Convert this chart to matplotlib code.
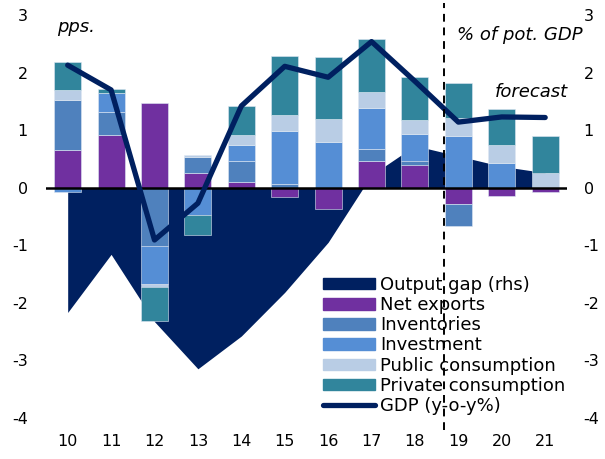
import numpy as np
import matplotlib
matplotlib.use('Agg')
import matplotlib.pyplot as plt
from matplotlib.patches import Patch
from matplotlib.lines import Line2D

plt.rcParams['axes.unicode_minus'] = False

years = ['10', '11', '12', '13', '14', '15', '16', '17', '18', '19', '20', '21']
net_exports = [0.66, 0.92, 1.47, 0.25, 0.10, -0.16, -0.37, 0.46, 0.40, -0.28, -0.14, -0.07]
inventories = [0.87, 0.40, -1.02, 0.28, 0.37, 0.06, 0.0, 0.22, 0.07, -0.38, 0.0, 0.0]
investment = [-0.07, 0.33, -0.65, -0.47, 0.28, 0.93, 0.80, 0.70, 0.46, 0.90, 0.43, 0.0]
public_cons = [0.17, 0.0, -0.05, 0.04, 0.16, 0.28, 0.40, 0.28, 0.25, 0.31, 0.31, 0.25]
private_cons = [0.49, 0.06, -0.59, -0.36, 0.51, 1.02, 1.08, 0.92, 0.74, 0.61, 0.63, 0.64]
output_gap = [-2.17, -1.16, -2.33, -3.15, -2.58, -1.82, -0.95, 0.22, 0.73, 0.55, 0.37, 0.26]
gdp = [2.13, 1.70, -0.91, -0.27, 1.42, 2.11, 1.92, 2.54, 1.85, 1.14, 1.23, 1.22]

navy = '#002060'
series = [
    ('Net exports', net_exports, '#7030A0'),
    ('Inventories', inventories, '#4F81BD'),
    ('Investment', investment, '#558ED5'),
    ('Public consumption', public_cons, '#B9CDE5'),
    ('Private consumption', private_cons, '#31859C'),
]

fig = plt.figure(figsize=(6.05, 4.59), dpi=100)
ax = fig.add_axes([0.076, 0.090, 0.861, 0.877])
x = np.arange(len(years))

# output gap area (rhs, same scale)
ax.fill_between(x, output_gap, 0, color=navy, lw=0, zorder=1)

pos = np.zeros(len(years))
neg = np.zeros(len(years))
for name, vals, col in series:
    v = np.array(vals)
    bottom = np.where(v >= 0, pos, neg)
    ax.bar(x, v, 0.62, bottom=bottom, color=col, edgecolor='#dfe8f3',
           linewidth=0.4, zorder=2)
    pos += np.where(v >= 0, v, 0)
    neg += np.where(v < 0, v, 0)

ax.axhline(0, color='black', lw=1.8, zorder=3)
ax.plot(x, gdp, color=navy, lw=3.8, solid_capstyle='round',
        solid_joinstyle='round', zorder=4)

# forecast divider
ax.plot([8.67, 8.67], [-0.03, 1.03], transform=ax.get_xaxis_transform(),
        color='black', lw=1.4, ls=(0, (4, 3)), clip_on=False, zorder=5)

ax.set_xlim(-0.5, 11.5)
ax.set_ylim(-4, 3)
ax.set_xticks(x)
ax.set_xticklabels(years)
ax.set_yticks(range(-4, 4))
ax.tick_params(axis='both', length=0, labelsize=11.5)
ax.tick_params(axis='x', pad=12)
ax.tick_params(axis='y', pad=13)
for s in ax.spines.values():
    s.set_visible(False)

ax2 = ax.twinx()
ax2.set_ylim(-4, 3)
ax2.set_yticks(range(-4, 4))
ax2.tick_params(axis='y', length=0, labelsize=11.5, pad=12)
for s in ax2.spines.values():
    s.set_visible(False)

fig.text(57 / 605, 1 - 27 / 459, 'pps.', fontsize=13, style='italic', va='center')
fig.text(457 / 605, 1 - 35 / 459, '% of pot. GDP', fontsize=13, style='italic', va='center')
fig.text(495 / 605, 1 - 92 / 459, 'forecast', fontsize=13, style='italic', va='center')

handles = [Patch(color=navy, label='Output gap (rhs)')]
handles += [Patch(color=col, label=name) for name, vals, col in series]
handles += [Line2D([0], [0], color=navy, lw=3.8, solid_capstyle='round',
                   label='GDP (y-o-y%)')]
ax.legend(handles=handles, loc='upper left', bbox_to_anchor=(0.531, 0.352),
          frameon=False, fontsize=13, labelspacing=0.12, handlelength=2.9,
          handleheight=0.6, handletextpad=0.3, borderpad=0, borderaxespad=0)

fig.savefig('out.png', dpi=100)
